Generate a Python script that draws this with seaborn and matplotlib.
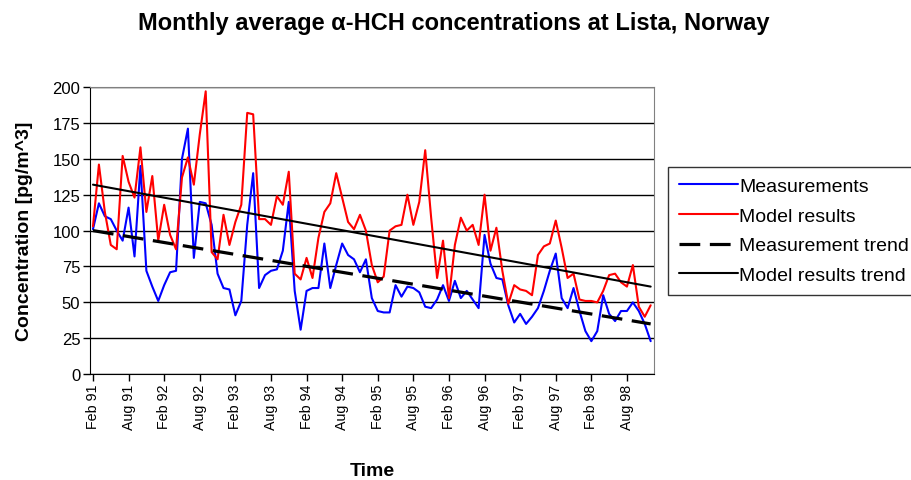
import numpy as np
import pandas as pd
import seaborn as sns
import matplotlib.pyplot as plt

# Monthly values, Feb 1991 - Dec 1998 (95 months)
measurements = [101, 119, 110, 108, 100, 93, 116, 82, 145, 72,
                61, 51, 62, 71, 72, 150, 171, 81, 120, 119,
                104, 70, 60, 59, 41, 51, 104, 140, 60, 69,
                72, 73, 86, 120, 58, 31, 58, 60, 60, 91,
                60, 76, 91, 83, 80, 71, 80, 53, 44, 43,
                43, 62, 54, 61, 60, 57, 47, 46, 52, 62,
                51, 65, 53, 58, 52, 46, 97, 77, 67, 66,
                48, 36, 42, 35, 40, 46, 58, 72, 84, 53,
                46, 60, 44, 30, 23, 30, 55, 42, 37, 44,
                44, 50, 44, 35, 23]
model_results = [103, 146, 113, 90, 87, 152, 134, 123, 158, 113,
                 138, 93, 118, 97, 87, 137, 151, 132, 167, 197,
                 85, 80, 111, 90, 106, 118, 182, 181, 108, 108,
                 104, 124, 118, 141, 70, 66, 81, 67, 95, 113,
                 119, 140, 123, 106, 101, 111, 100, 76, 64, 68,
                 100, 103, 104, 125, 104, 120, 156, 109, 67, 93,
                 53, 90, 109, 100, 104, 90, 125, 86, 102, 72,
                 49, 62, 59, 58, 55, 83, 89, 91, 107, 88,
                 67, 70, 52, 51, 51, 50, 58, 69, 70, 64,
                 61, 76, 47, 40, 48]

# linear trend lines: value at first and last month
trend_months = [0, 94]
measurement_trend = [100, 35]
model_trend = [132, 61]

tick_labels = ['Feb 91', 'Aug 91', 'Feb 92', 'Aug 92', 'Feb 93', 'Aug 93',
               'Feb 94', 'Aug 94', 'Feb 95', 'Aug 95', 'Feb 96', 'Aug 96',
               'Feb 97', 'Aug 97', 'Feb 98', 'Aug 98']

df = pd.DataFrame({'month': np.arange(len(measurements)),
                   'Measurements': measurements,
                   'Model results': model_results})
trend = pd.DataFrame({'month': trend_months,
                      'Measurement trend': measurement_trend,
                      'Model results trend': model_trend})

sns.set_style('white')
plt.rcParams['font.family'] = ['Liberation Sans', 'DejaVu Sans']
plt.rcParams.update({'text.color': 'black', 'axes.labelcolor': 'black',
                     'xtick.color': 'black', 'ytick.color': 'black'})

fig = plt.figure(figsize=(9.12, 4.81), dpi=100)
ax = fig.add_axes([0.0987, 0.22, 0.618, 0.597])

sns.lineplot(data=df, x='month', y='Measurements', ax=ax, color='#0000ff',
             linewidth=1.5, label='Measurements')
sns.lineplot(data=df, x='month', y='Model results', ax=ax, color='#ff0000',
             linewidth=1.5, label='Model results')
sns.lineplot(data=trend, x='month', y='Measurement trend', ax=ax, color='black',
             linewidth=2.3, label='Measurement trend')
sns.lineplot(data=trend, x='month', y='Model results trend', ax=ax, color='black',
             linewidth=1.5, label='Model results trend')
ax.lines[2].set_dashes((6.5, 3))

ax.set_xlim(-0.5, len(measurements) - 0.5)
ax.set_ylim(0, 200)
ax.set_yticks(np.arange(0, 201, 25))
ax.set_xticks(np.arange(0, len(measurements), 6))
ax.set_xticklabels(tick_labels, rotation=90, fontsize=10.3)
ax.tick_params(axis='y', labelsize=12, length=5, width=1, direction='out',
               left=True, pad=2)
ax.tick_params(axis='x', length=5, width=1, direction='out', bottom=True, pad=2)
ax.yaxis.grid(True, color='black', linewidth=1)
ax.set_axisbelow(True)

for side in ['top', 'right']:
    ax.spines[side].set_color('#808080')
for side in ['left', 'bottom']:
    ax.spines[side].set_color('black')

ax.set_xlabel('Time', fontsize=14, fontweight='bold', labelpad=24)
ax.set_ylabel('Concentration [pg/m^3]', fontsize=14, fontweight='bold', labelpad=14)

fig.suptitle('Monthly average \u03b1-HCH concentrations at Lista, Norway',
             fontsize=17, fontweight='bold', x=0.497, y=0.975)

ax.get_legend().remove()
handles, labels = ax.get_legend_handles_labels()
leg = fig.legend(handles, labels, loc='center left', bbox_to_anchor=(0.733, 0.518),
                 fontsize=14, frameon=True, fancybox=False, edgecolor='black',
                 handlelength=3.0, handletextpad=0.1, borderpad=0.55,
                 labelspacing=0.62, borderaxespad=0)
leg.get_frame().set_linewidth(1)

fig.savefig('out.png', dpi=100)
